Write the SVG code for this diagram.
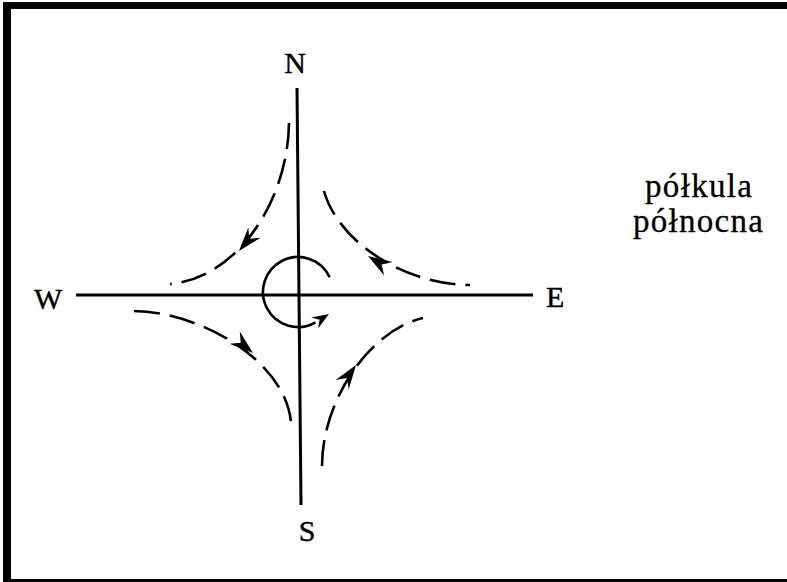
<svg xmlns="http://www.w3.org/2000/svg" width="787" height="582" viewBox="0 0 787 582">
  <style>
    .lbl { font-family: "Liberation Serif", "Times New Roman", serif; font-size: 30px; fill: #000; stroke: #000; stroke-width: 0.4; }
    .txt { font-family: "Liberation Serif", "Times New Roman", serif; font-size: 33px; fill: #000; stroke: #000; stroke-width: 0.3; }
    .axis { stroke: #000; stroke-width: 3; fill: none; }
    .flow { stroke: #000; stroke-width: 2.6; fill: none; stroke-dasharray: 26 10; }
    .rot { stroke: #000; stroke-width: 2.6; fill: none; }
  </style>
  <defs>
    <path id="ah" d="M0,0 L-24,-8 L-16,0 L-24,8 Z" fill="#000"/>
    <path id="ahs" d="M0,0 L-17,-6.5 L-11,0 L-17,6.5 Z" fill="#000"/>
  </defs>
  <rect x="0" y="0" width="787" height="582" fill="#fff"/>
  <g id="frame" fill="#000">
    <rect x="3" y="2" width="784" height="7"/>
    <rect x="3" y="2" width="8" height="580"/>
    <rect x="3" y="579" width="784" height="3"/>
  </g>
  <g id="axes">
    <line class="axis" x1="297" y1="88" x2="301" y2="505"/>
    <line class="axis" x1="76" y1="295" x2="533" y2="295"/>
  </g>
  <g id="label-N"><text class="lbl" x="295" y="73" text-anchor="middle">N</text></g>
  <g id="label-S"><text class="lbl" x="307" y="541" text-anchor="middle">S</text></g>
  <g id="label-W"><text class="lbl" x="34" y="309">W</text></g>
  <g id="label-E"><text class="lbl" x="546" y="307">E</text></g>
  <g id="caption">
    <text class="txt" x="645" y="197" textLength="107" lengthAdjust="spacing">półkula</text>
    <text class="txt" x="633" y="232" textLength="130" lengthAdjust="spacing">północna</text>
  </g>
  <g id="connectors">
    <path class="flow" d="M289,123 C288,200 238,278 170,284" stroke-dasharray="30 10"/>
    <use href="#ah" transform="translate(239,251) rotate(130)"/>
    <path class="flow" d="M324,191 C338,242 405,285 470,285"/>
    <use href="#ah" transform="translate(368,256) rotate(-148)"/>
    <path class="flow" d="M134,311 C200,312 285,360 291,422"/>
    <use href="#ah" transform="translate(253,353) rotate(40)"/>
    <path class="flow" d="M322,466 C322,400 370,330 423,318"/>
    <use href="#ah" transform="translate(356,365) rotate(-55)"/>
  </g>
  <g id="rotation">
    <path class="rot" d="M329.7,277.2 A35,35 0 1 0 315.5,322.3"/>
    <use href="#ahs" transform="translate(329,314) rotate(-32)"/>
  </g>
</svg>
